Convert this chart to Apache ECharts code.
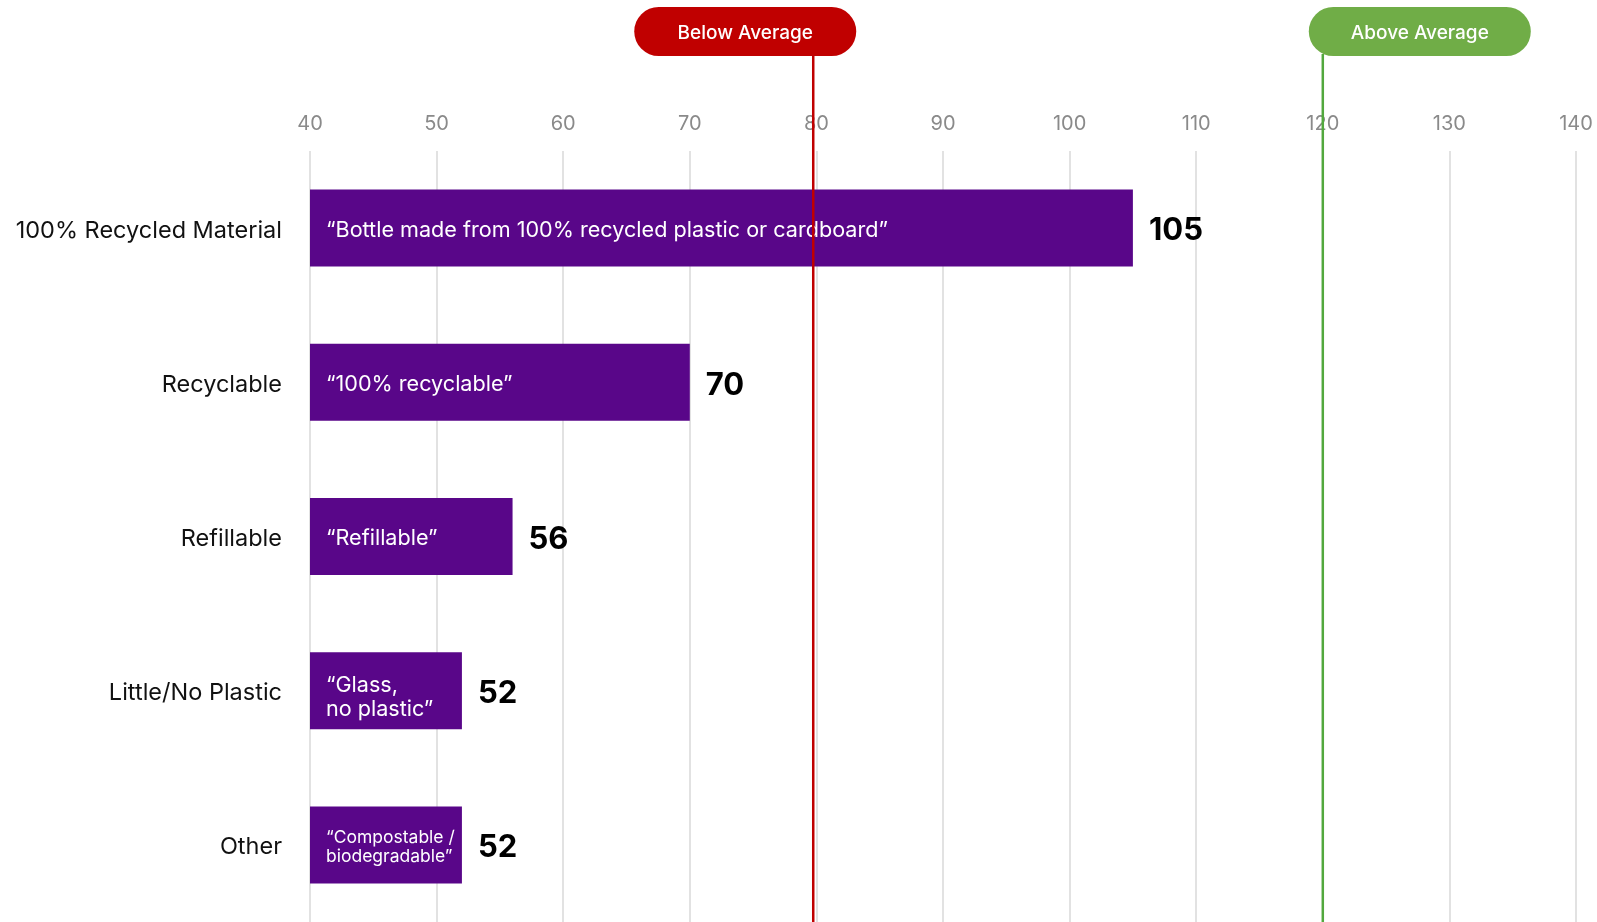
<!DOCTYPE html>
<html>
<head>
<meta charset="utf-8">
<script src="https://cdn.jsdelivr.net/npm/echarts@6/dist/echarts.min.js"></script>
<style>
  html, body { margin: 0; padding: 0; background: #fff; }
  #chart { width: 1597px; height: 922px; }
</style>
</head>
<body>
<div id="chart"></div>
<script>
// Category names, top to bottom
const categories = ['100% Recycled Material', 'Recyclable', 'Refillable', 'Little/No Plastic', 'Other'];
// Index score per category
const scores = [105, 70, 56, 52, 52];
// Example claim printed inside each bar
const claims = [
  '\u201CBottle made from 100% recycled plastic or cardboard\u201D',
  '\u201C100% recyclable\u201D',
  '\u201CRefillable\u201D',
  '\u201CGlass,\nno plastic\u201D',
  '\u201CCompostable /\nbiodegradable\u201D'
];
// Benchmark thresholds and their badges
const benchmarkValues = [79.75, 120];
const benchmarkNames = ['Below Average', 'Above Average'];

const FONT = 'Inter, "Noto Sans", sans-serif';
const PURPLE = '#590689';
const badgeColors = ['#C00000', '#70AD47'];
const lineColors = ['#C00000', '#52A83E'];
// badge left edge relative to its threshold line, and size
const badgeOffsets = [-179, -14];
const BADGE_W = 222, BADGE_H = 49, BADGE_TOP = 7;

const chart = echarts.init(document.getElementById('chart'));

// the two-line "Glass" claim sits a little lower in its bar
const claimData = scores.map((v, i) => i === 3 ? { value: v, label: { padding: [13, 0, 0, 0] } } : v);

const option = {
  backgroundColor: '#fff',
  animation: false,
  grid: { left: 310, right: 21, top: 151, bottom: 0, containLabel: false },
  xAxis: {
    type: 'value',
    position: 'top',
    min: 40, max: 140, interval: 10,
    axisLine: { show: false },
    axisTick: { show: false },
    axisLabel: { color: '#8a8a8a', fontSize: 20, fontFamily: FONT, margin: 17 },
    splitLine: { show: true, lineStyle: { color: '#d9d9d9', width: 1.5 } }
  },
  yAxis: {
    type: 'category',
    inverse: true,
    data: categories,
    axisLine: { show: false },
    axisTick: { show: false },
    axisLabel: {
      color: '#111', fontSize: 23.5, fontFamily: FONT, margin: 28,
      verticalAlign: 'top', lineHeight: 5
    }
  },
  series: [
    {
      type: 'bar',
      data: claimData,
      barWidth: 77,
      itemStyle: { color: PURPLE },
      label: {
        show: true,
        position: 'insideLeft',
        distance: 16,
        padding: [4, 0, 0, 0],
        color: '#fff',
        fontFamily: FONT,
        formatter: p => {
          const txt = claims[p.dataIndex];
          return p.dataIndex === 4 ? '{s|' + txt.replace('\n', '}\n{s|') + '}' : '{n|' + txt.replace('\n', '}\n{n|') + '}';
        },
        rich: {
          n: { fontSize: 21.6, lineHeight: 24, color: '#fff', fontFamily: FONT },
          s: { fontSize: 17.5, lineHeight: 19, color: '#fff', fontFamily: FONT }
        }
      },
      z: 2
    },
    {
      type: 'bar',
      data: scores,
      barWidth: 77,
      barGap: '-100%',
      itemStyle: { color: 'rgba(0,0,0,0)' },
      label: {
        show: true,
        position: 'right',
        distance: 16,
        offset: [0, 3],
        color: '#000',
        fontSize: 31,
        fontWeight: 'bold',
        fontFamily: FONT,
        formatter: '{c}'
      },
      silent: true,
      z: 3
    }
  ]
};

chart.setOption(option);

// Threshold lines with their pill badges, positioned through the x scale
const graphics = [];
benchmarkValues.forEach((v, i) => {
  const x = chart.convertToPixel({ xAxisIndex: 0 }, v);
  graphics.push({
    type: 'line',
    shape: { x1: x, y1: BADGE_TOP + BADGE_H - 2, x2: x, y2: 922 },
    style: { stroke: lineColors[i], lineWidth: 2.5 },
    z: 100
  });
  graphics.push({
    type: 'rect',
    shape: { x: x + badgeOffsets[i], y: BADGE_TOP, width: BADGE_W, height: BADGE_H, r: BADGE_H / 2 },
    style: { fill: badgeColors[i] },
    z: 101
  });
  graphics.push({
    type: 'text',
    x: x + badgeOffsets[i] + BADGE_W / 2,
    y: BADGE_TOP + BADGE_H / 2 + 2,
    style: {
      text: benchmarkNames[i],
      fill: '#fff',
      font: '500 19px ' + FONT,
      textAlign: 'center',
      textVerticalAlign: 'middle'
    },
    z: 102
  });
});
chart.setOption({ graphic: graphics });
</script>
</body>
</html>
